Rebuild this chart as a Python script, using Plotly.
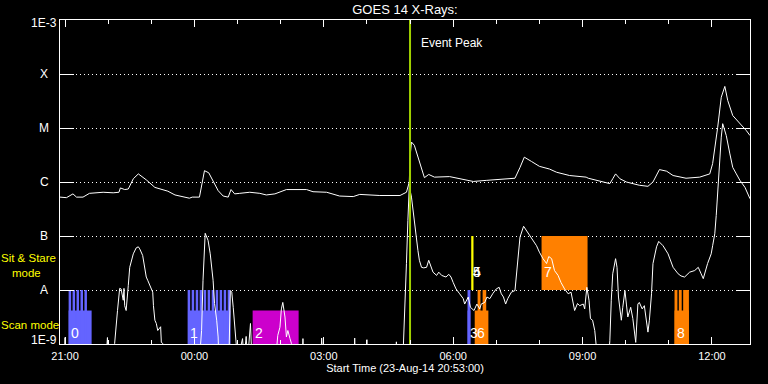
import plotly.graph_objects as go
from datetime import datetime, timedelta

START = datetime(2014, 8, 23, 20, 53, 0)
END = START + timedelta(hours=16)
EVENT_PEAK_MIN = 487          # minutes after start (05:00)
BELOW = -9.3                  # log10 flux below the plotted floor (clipped)

# ---- GOES 14 long channel (1-8 A): minutes after start, log10 flux ----
long_t = [0, 9, 18, 23, 32, 41, 60, 74, 82, 84, 90, 95, 102, 109, 120, 132, 150, 160,
          180, 184, 194, 198, 201, 207, 213, 220, 227, 234, 238, 243, 250, 264, 278, 287,
          299, 306, 315, 343, 352, 371, 389, 408, 417, 445, 473, 482, 486, 487, 489, 493,
          498, 503, 507, 513, 521, 542, 556, 575, 593, 616, 633, 640, 646, 656, 667, 681,
          691, 709, 732, 735, 751, 765, 769, 773, 779, 788, 806, 818, 825, 834, 844, 853,
          871, 890, 904, 908, 915, 920, 925, 929, 936, 946, 955, 960]
long_lf = [-6.28, -6.29, -6.22, -6.28, -6.28, -6.21, -6.19, -6.20, -6.19, -6.11, -6.14, -6.13,
           -5.94, -5.85, -5.96, -6.10, -6.17, -6.24, -6.30, -6.28, -6.28, -6.03, -5.79, -5.83,
           -5.97, -6.16, -6.26, -6.28, -6.14, -6.22, -6.21, -6.19, -6.21, -6.24, -6.22, -6.18,
           -6.14, -6.14, -6.18, -6.19, -6.26, -6.27, -6.23, -6.25, -6.25, -6.19, -6.00, -5.54,
           -5.26, -5.32, -5.54, -5.79, -5.92, -5.86, -5.91, -5.90, -5.94, -5.99, -5.97, -5.95,
           -5.93, -5.73, -5.54, -5.62, -5.71, -5.76, -5.82, -5.88, -5.91, -5.93, -5.99, -6.03,
           -5.94, -5.85, -5.94, -6.00, -6.06, -6.08, -6.00, -5.77, -5.80, -5.88, -5.93, -5.91,
           -5.85, -5.66, -4.99, -4.43, -4.23, -4.49, -4.77, -4.91, -5.05, -5.14]

# ---- GOES 14 short channel (0.5-4 A): minutes after start, log10 flux ----
B = BELOW
short_t = [0, 6, 7, 8, 64, 66, 67, 75, 76, 78, 80, 83, 85, 88, 89, 90, 92, 95, 97, 102, 106,
           109, 111, 115, 120, 122, 125, 127, 129, 130, 132, 134, 136, 140, 141, 143, 144,
           194, 197, 199, 201, 202, 206, 209, 213, 215, 218, 220, 221,
           235, 237, 239, 241, 243, 245, 247, 254, 256, 259, 261, 265, 267,
           300, 303, 306, 308, 310, 313, 315, 317, 320, 322, 323,
           337, 338, 339, 363, 364, 366, 409, 410, 411, 425, 427, 428, 467, 468, 469,
           477, 478, 479, 481, 482, 484, 486, 489, 492, 496, 498, 500, 503, 506, 510, 513,
           517, 519, 524, 527, 531, 537, 541, 544, 547, 551, 556, 561, 563, 568, 571, 576,
           580, 584, 586, 591, 594, 598, 602, 607, 611, 614, 617, 620, 623, 628, 633, 635,
           637, 640, 645, 649, 653, 658, 663, 667, 672, 677, 680, 684, 688, 693, 697, 702,
           707, 711, 716, 720, 723, 728, 730, 733, 736, 738, 741, 744, 746, 748,
           763, 765, 767, 769, 773, 775, 777, 779, 781, 783, 786, 788, 790, 794, 797, 801,
           804, 806, 810, 813, 818, 820, 823, 825, 830, 833, 839, 846, 853, 860, 864, 869,
           876, 883, 888, 892, 895, 901, 906, 908, 911, 913, 915, 918, 920, 922, 927, 932,
           936, 941, 946, 953, 960]
short_lf = [B, B, -8.88, B, B, -8.88, B, B, -8.99, -8.62, -8.38, -7.97, -7.98, -8.19, -7.97,
            -8.29, -8.38, -7.92, -7.58, -7.33, -7.22, -7.20, -7.24, -7.36, -7.76, -7.82, -7.92,
            -7.95, -8.04, -8.29, -8.56, -8.62, -8.75, -8.68, -8.97, -8.99, B,
            B, -8.75, -7.82, -7.08, -6.95, -7.08, -7.33, -7.82, -8.25, -8.56, -8.87, B,
            B, -8.01, -8.04, -8.32, -8.69, -8.87, B, -8.90, B, -8.86, B, -8.62, B,
            B, -8.84, -8.69, -8.35, -8.23, -8.50, -8.87, -8.75, -8.90, -8.99, B,
            B, -8.90, B, B, -8.89, B, B, -8.89, B, B, -8.92, B, B, -8.96, B,
            B, -8.99, -8.56, -7.82, -7.51, -6.71, -6.08, -6.28, -6.65, -7.02, -7.27, -7.45,
            -7.58, -7.59, -7.58, -7.45, -7.58, -7.67, -7.73, -7.67, -7.73, -7.76, -7.71, -7.76,
            -7.86, -7.98, -8.07, -8.16, -8.26, -8.13, -8.32, -8.38, -8.26, -8.35, -8.26, -8.23,
            -8.13, -8.16, -8.07, -7.98, -7.95, -8.07, -8.13, -8.26, -8.16, -8.04, -8.01, -7.76,
            -7.39, -7.02, -6.82, -6.90, -6.99, -7.08, -7.18, -7.30, -7.42, -7.51, -7.38, -7.42,
            -7.64, -7.73, -7.86, -7.98, -8.07, -8.04, -8.38, -8.25, -8.29, -8.26, -8.35, -7.95,
            -8.19, -8.53, -8.56, -8.75, -8.97, B,
            B, -8.94, -8.19, -7.70, -7.42, -7.58, -8.13, -8.38, -8.56, -8.32, -8.01, -8.26,
            -8.50, -8.32, -8.53, -8.97, -8.26, -8.23, -8.35, -8.29, -8.78, -8.56, -8.07, -7.51,
            -7.20, -7.10, -7.18, -7.33, -7.58, -7.70, -7.74, -7.76, -7.67, -7.64, -7.58, -7.70,
            -7.79, -7.51, -7.33, -7.18, -6.96, -6.62, -6.16, -5.48, -5.17, -4.92, -5.14, -5.48,
            -5.73, -5.85, -5.97, -6.10, -6.31]

# ---- IRIS observations (minutes after start) ----
obs_label = ['0', '1', '2', '3', '4', '5', '6', '7', '8']
obs_start = [12, 178, 268, 567, 572.5, 572.5, 577, 670, 855]
obs_end = [44, 237, 332, 571, 575, 575, 596, 734, 875]
obs_mode = ['scan', 'scan', 'scan', 'scan', 'stare', 'stare', 'scan', 'stare', 'scan']

# individual rasters inside scan-mode observations
raster_obs = [0, 0, 0, 0, 0,
              1, 1, 1, 1, 1, 1, 1, 1, 1, 1, 1,
              3, 6, 6, 8, 8, 8]
raster_start = [12, 17.5, 23, 28.5, 34,
                177.6, 183.2, 188.8, 194.3, 199.9, 205.4, 211, 216.6, 222.1, 227.7, 233.3,
                567, 581, 588, 855, 861, 867]
raster_end = [15.5, 21, 26.5, 32, 37.5,
              181.1, 186.7, 192.3, 197.8, 203.4, 208.9, 214.5, 220.1, 225.6, 231.2, 237,
              571, 585, 593, 859, 865, 875]

# ---- styles / layout constants ----
obs_color = ['#6464ff', '#6464ff', '#cc00cc', '#6464ff', '#ffff00', '#ffff00',
             '#ff8000', '#ff8000', '#ff8000']
SCAN_BASE, SCAN_BLOCK_TOP, SCAN_TOP = -9.0, -8.38, -8.0
STARE_BASE, STARE_TOP = -8.0, -7.0
level_vals = [-8, -7, -6, -5, -4]
axis_labels = ['1E-3', 'X', 'M', 'C', 'B', 'A', '1E-9']
axis_label_lf = [-3, -4, -5, -6, -7, -8, -9]

FONT = 'Liberation Sans'


def tm(m):
    return START + timedelta(minutes=m)


def rect(t0, t1, lo, hi, color):
    return go.Scatter(
        x=[tm(t0), tm(t0), tm(t1), tm(t1), tm(t0)],
        y=[10 ** lo, 10 ** hi, 10 ** hi, 10 ** lo, 10 ** lo],
        mode='lines', fill='toself', fillcolor=color,
        line=dict(width=0, color=color), hoverinfo='skip', showlegend=False)


fig = go.Figure()

# observation blocks
for i in range(len(obs_label)):
    if obs_mode[i] == 'scan':
        fig.add_trace(rect(obs_start[i], obs_end[i], SCAN_BASE, SCAN_BLOCK_TOP, obs_color[i]))
    else:
        fig.add_trace(rect(obs_start[i], obs_end[i], STARE_BASE, STARE_TOP, obs_color[i]))
for k in range(len(raster_obs)):
    o = raster_obs[k]
    fig.add_trace(rect(raster_start[k], raster_end[k], SCAN_BASE, SCAN_TOP, obs_color[o]))

# X-ray curves
fig.add_trace(go.Scatter(x=[tm(t) for t in long_t], y=[10 ** v for v in long_lf],
                         mode='lines', line=dict(color='white', width=1), showlegend=False))
fig.add_trace(go.Scatter(x=[tm(t) for t in short_t], y=[10 ** v for v in short_lf],
                         mode='lines', line=dict(color='white', width=1), showlegend=False))

# event peak line
fig.add_trace(go.Scatter(x=[tm(EVENT_PEAK_MIN), tm(EVENT_PEAK_MIN)], y=[1e-9, 1e-3],
                         mode='lines', line=dict(color='#a0d000', width=2), showlegend=False))

annotations = []
# observation labels
for i in range(len(obs_label)):
    y = -8.80 if obs_mode[i] == 'scan' else -7.67
    annotations.append(dict(x=tm(obs_start[i]), y=y, xref='x', yref='y', text=obs_label[i],
                            showarrow=False, xanchor='left', yanchor='middle',
                            font=dict(family=FONT, size=14, color='white')))
# y-axis class labels
for lab, lf in zip(axis_labels, axis_label_lf):
    shift = -3 if lf == -3 else (4 if lf == -9 else 0)
    annotations.append(dict(x=(44 - 60) / 690, y=lf, xref='paper', yref='y', text=lab,
                            showarrow=False, xanchor='center', yanchor='middle', yshift=shift,
                            font=dict(family=FONT, size=12, color='white')))
annotations += [
    dict(x=-0.087, y=-7.40, xref='paper', yref='y', text='Sit & Stare', showarrow=False,
         xanchor='left', yanchor='middle', borderpad=0, height=11,
         font=dict(family=FONT, size=11.5, color='#ffff00')),
    dict(x=-0.071, y=-7.67, xref='paper', yref='y', text='mode', showarrow=False,
         xanchor='left', yanchor='middle', borderpad=0, height=11,
         font=dict(family=FONT, size=11.5, color='#ffff00')),
    dict(x=-0.087, y=-8.633, xref='paper', yref='y', text='Scan mode', showarrow=False,
         xanchor='left', yanchor='middle', borderpad=0, height=11,
         font=dict(family=FONT, size=11.5, color='#ffff00')),
    dict(x=tm(EVENT_PEAK_MIN), y=-3.435, xref='x', yref='y', text='Event Peak', showarrow=False,
         xanchor='left', yanchor='middle', xshift=9,
         font=dict(family=FONT, size=12, color='white')),
]

fig.update_layout(
    width=768, height=384,
    margin=dict(l=60, r=18, t=20, b=40),
    paper_bgcolor='black', plot_bgcolor='black',
    showlegend=False,
    title=dict(text='GOES 14 X-Rays:', x=0.5, xref='paper', xanchor='center',
               y=1 - 9.5 / 384, yref='container', yanchor='middle',
               font=dict(family=FONT, size=13, color='white')),
    annotations=annotations,
    xaxis=dict(
        type='date', range=[START, END],
        tick0=datetime(2014, 8, 23, 21, 0), dtick=3 * 3600000,
        tickformat='%H:%M', ticks='inside', ticklen=7, tickcolor='white', tickwidth=1,
        minor=dict(dtick=3600000, tick0=datetime(2014, 8, 23, 21, 0), ticks='inside',
                   ticklen=4, tickcolor='white', showgrid=False),
        showline=True, linecolor='white', linewidth=1, mirror='ticks',
        showgrid=False, zeroline=False, ticklabelstandoff=2,
        tickfont=dict(family=FONT, size=11, color='white'),
        title=dict(text='Start Time (23-Aug-14 20:53:00)', standoff=3,
                   font=dict(family=FONT, size=11, color='white')),
    ),
    yaxis=dict(
        type='log', range=[-9, -3],
        tickvals=[10 ** v for v in level_vals], showticklabels=False,
        ticks='inside', ticklen=14, tickcolor='white', tickwidth=1,
        showline=True, linecolor='white', linewidth=1, mirror='ticks',
        showgrid=True, gridcolor='white', gridwidth=1, griddash='1px,3px',
        zeroline=False,
    ),
)

fig.write_html('out.html', config={'displayModeBar': False},
               post_script="document.body.style.margin='0';document.body.style.background='black';")
